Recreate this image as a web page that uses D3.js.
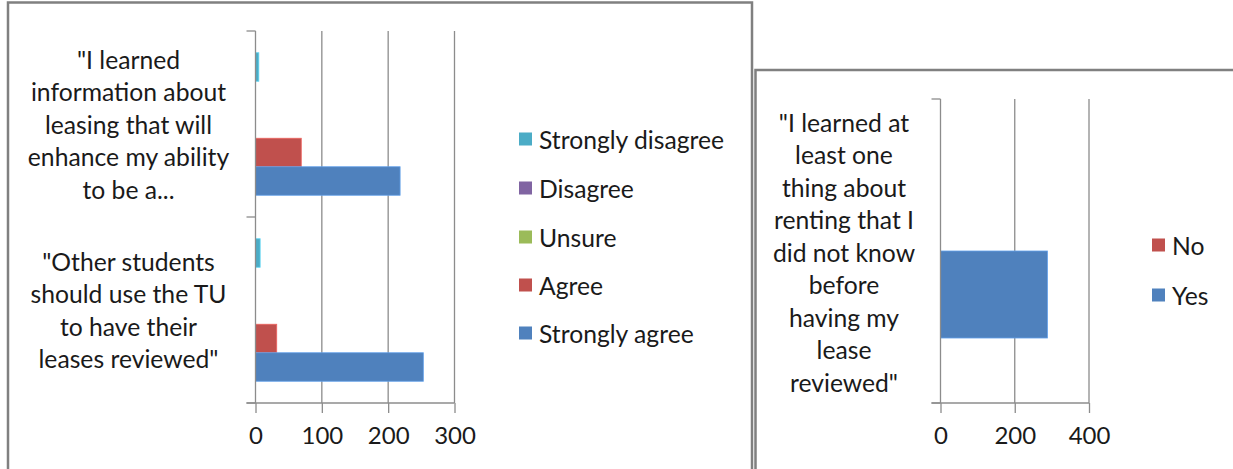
<!DOCTYPE html>
<html>
<head>
<meta charset="utf-8">
<script src="https://cdn.jsdelivr.net/npm/d3@7"></script>
<style>
  html, body { margin: 0; padding: 0; background: #fff; }
  svg { display: block; }
  text { font-family: Lato, "Open Sans", sans-serif; fill: #1a1a1a; }
</style>
</head>
<body>
<svg id="chart" width="1233" height="469"></svg>
<script>
// ---- Left chart data ----
const leftCategories = ["learned", "others"];
const leftCategoryLines = [
  ['"I learned', 'information about', 'leasing that will', 'enhance my ability', 'to be a...'],
  ['"Other students', 'should use the TU', 'to have their', 'leases reviewed"']
];
const leftSeries = ["Strongly disagree", "Disagree", "Unsure", "Agree", "Strongly agree"];
const leftColors = ["#4BACC6", "#8064A2", "#9BBB59", "#C0504D", "#4F81BD"];
const stronglyDisagree = [5, 7];
const disagree = [0, 0];
const unsure = [0, 0];
const agree = [69, 32];
const stronglyAgree = [218, 253];
const leftTicks = [0, 100, 200, 300];

// ---- Right chart data ----
const rightCategories = ["learnedOne"];
const rightCategoryLines = [
  ['"I learned at', 'least one', 'thing about', 'renting that I', 'did not know', 'before', 'having my', 'lease', 'reviewed"']
];
const rightSeries = ["No", "Yes"];
const rightColors = ["#C0504D", "#4F81BD"];
const noValues = [0];
const yesValues = [288];
const rightTicks = [0, 200, 400];

const svg = d3.select("#chart");
const gridColor = "#8c8c8c";
const borderColor = "#808080";
const fontSize = 24.7;
const tickFont = 24;
const lineH = 32.5;

// Panel borders
svg.append("rect").attr("x", 8).attr("y", 2.5).attr("width", 744).attr("height", 480)
  .attr("fill", "#fff").attr("stroke", borderColor).attr("stroke-width", 2.5);
svg.append("rect").attr("x", 755.5).attr("y", 70).attr("width", 500).attr("height", 420)
  .attr("fill", "#fff").attr("stroke", borderColor).attr("stroke-width", 2.5);

function drawChart(cfg) {
  const g = svg.append("g");
  const x = d3.scaleLinear().domain(cfg.xDomain).range([cfg.x0, cfg.x1]);
  const y = d3.scaleBand().domain(cfg.categories).range([cfg.y0, cfg.y1]).paddingInner(0).paddingOuter(0);
  const inner = d3.scaleBand().domain(cfg.series).range([0, y.bandwidth()])
    .paddingInner(0).paddingOuter(cfg.outerPad);

  // gridlines
  g.selectAll("line.grid").data(cfg.ticks.filter(t => t !== 0)).join("line")
    .attr("x1", d => x(d)).attr("x2", d => x(d))
    .attr("y1", cfg.y0).attr("y2", cfg.y1)
    .attr("stroke", gridColor).attr("stroke-width", 1.3);

  // bars
  cfg.series.forEach((s, si) => {
    g.selectAll(null).data(cfg.categories).join("rect")
      .attr("x", x(0))
      .attr("y", c => y(c) + inner(s))
      .attr("width", (c, ci) => Math.max(0, x(cfg.values[si][ci]) - x(0)))
      .attr("height", inner.bandwidth())
      .attr("fill", cfg.colors[si])
      .attr("stroke", d3.color(cfg.colors[si]).brighter(0.6))
      .attr("stroke-width", (c, ci) => cfg.values[si][ci] > 0 ? 0.8 : 0);
  });

  // y axis line + category boundary ticks
  g.append("line").attr("x1", x(0)).attr("x2", x(0)).attr("y1", cfg.y0).attr("y2", cfg.y1)
    .attr("stroke", gridColor).attr("stroke-width", 1.3);
  const bounds = cfg.categories.map(c => y(c)).concat([cfg.y1]);
  g.selectAll(null).data(bounds).join("line")
    .attr("x1", x(0) - 9).attr("x2", x(0))
    .attr("y1", d => d).attr("y2", d => d)
    .attr("stroke", gridColor).attr("stroke-width", 1.3);

  // x axis
  const xAxis = d3.axisBottom(x).tickValues(cfg.ticks).tickSize(10).tickPadding(14).tickSizeOuter(0);
  const ax = g.append("g").attr("transform", `translate(0,${cfg.y1})`).call(xAxis);
  ax.select(".domain").remove();
  ax.selectAll(".tick line").attr("stroke", gridColor).attr("stroke-width", 1.3);
  ax.selectAll(".tick text").attr("font-size", tickFont).attr("fill", "#1a1a1a")
    .attr("font-family", "Lato, 'Open Sans', sans-serif");
  g.append("line").attr("x1", x(0) - 9).attr("x2", x(cfg.xDomain[1]))
    .attr("y1", cfg.y1).attr("y2", cfg.y1)
    .attr("stroke", gridColor).attr("stroke-width", 1.3);

  // category labels
  cfg.categories.forEach((c, ci) => {
    const lines = cfg.labelLines[ci];
    const cy = y(c) + y.bandwidth() / 2;
    const t = g.append("text").attr("text-anchor", "middle").attr("font-size", fontSize);
    lines.forEach((ln, li) => {
      t.append("tspan").attr("x", cfg.labelX)
        .attr("y", cy + (li - (lines.length - 1) / 2) * lineH + cfg.labelDy)
        .attr("dominant-baseline", "central")
        .text(ln);
    });
  });

  // legend
  const lg = g.append("g");
  cfg.series.forEach((s, si) => {
    const ly = cfg.legendY[si];
    lg.append("rect").attr("x", cfg.legendX).attr("y", ly - 6.5).attr("width", 13).attr("height", 13)
      .attr("fill", cfg.colors[si]);
    lg.append("text").attr("x", cfg.legendX + 20).attr("y", ly)
      .attr("dominant-baseline", "central").attr("font-size", fontSize).text(s);
  });
}

drawChart({
  categories: leftCategories,
  labelLines: leftCategoryLines,
  series: leftSeries,
  colors: leftColors,
  values: [stronglyDisagree, disagree, unsure, agree, stronglyAgree],
  ticks: leftTicks,
  xDomain: [0, 300],
  x0: 255.5, x1: 454.5,
  y0: 31, y1: 403,
  outerPad: 0.763,
  labelX: 128.5,
  labelDy: 0,
  legendX: 519,
  legendY: [139, 188, 237, 285, 333]
});

drawChart({
  categories: rightCategories,
  labelLines: rightCategoryLines,
  series: rightSeries,
  colors: rightColors,
  values: [noValues, yesValues],
  ticks: rightTicks,
  xDomain: [0, 400],
  x0: 940.5, x1: 1089,
  y0: 99, y1: 403,
  outerPad: 0.747,
  labelX: 844,
  labelDy: 1,
  legendX: 1152,
  legendY: [245, 295]
});
</script>
</body>
</html>
